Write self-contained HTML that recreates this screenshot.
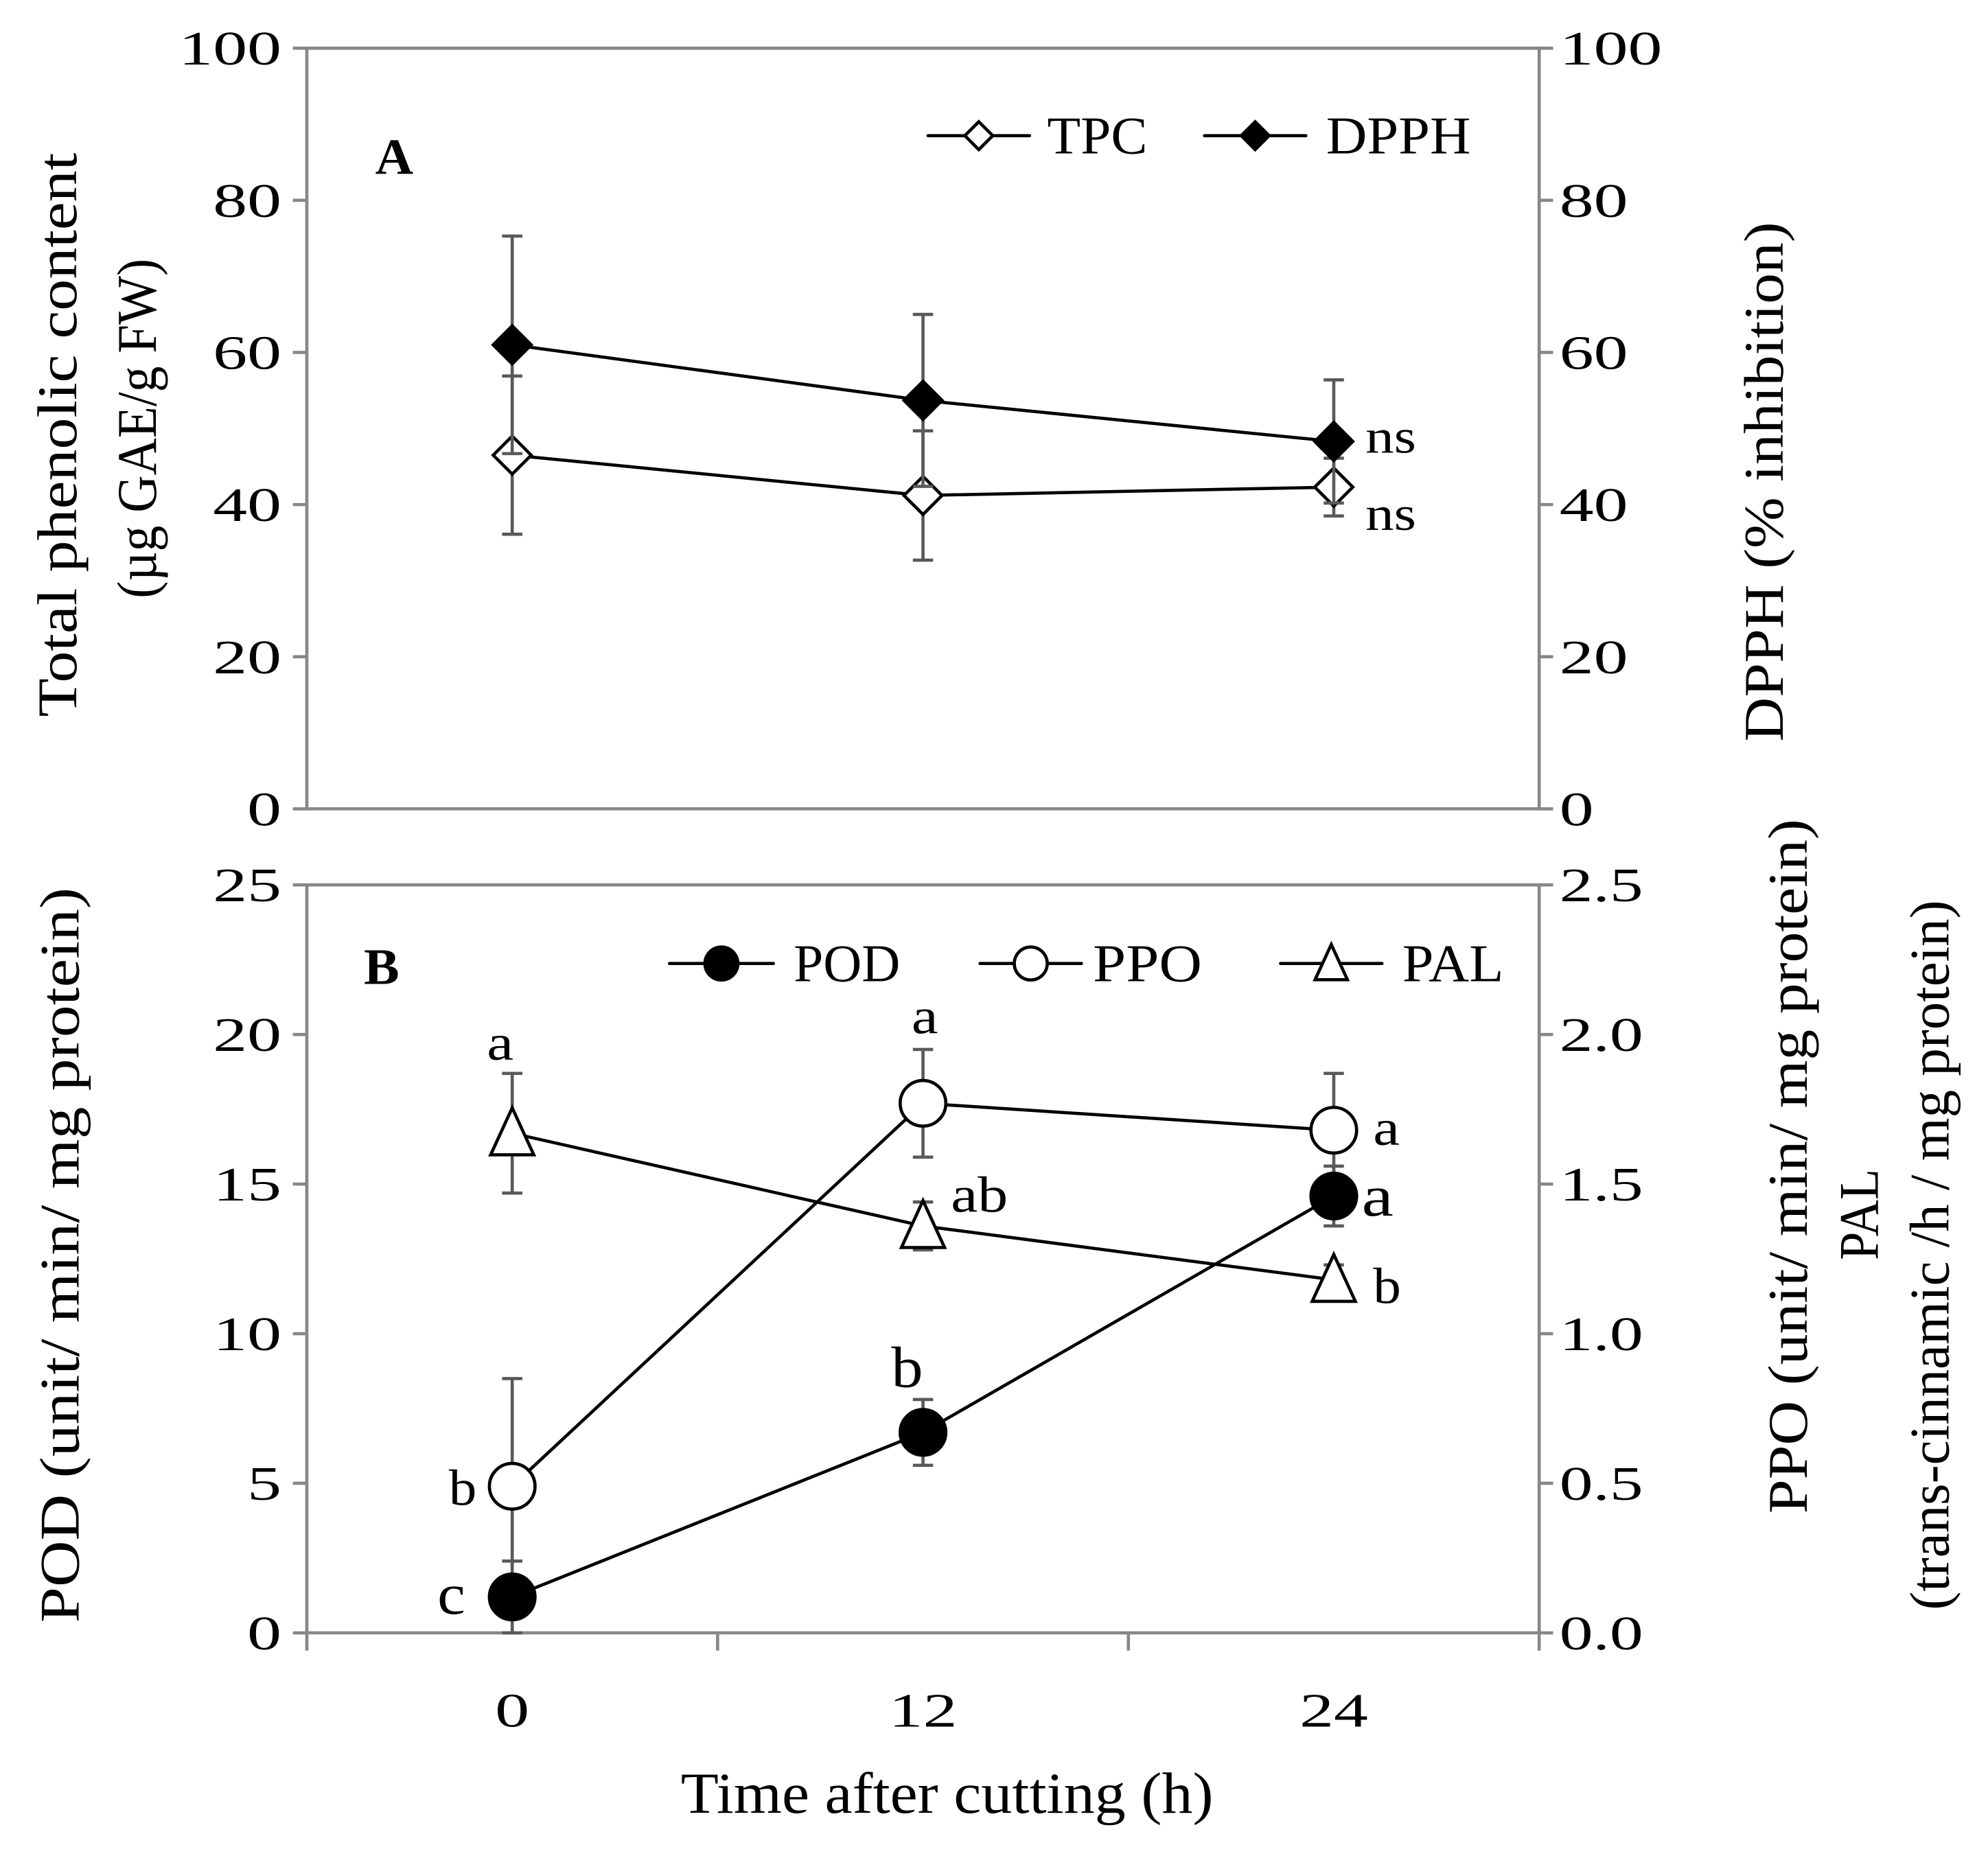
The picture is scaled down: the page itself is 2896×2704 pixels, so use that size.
<!DOCTYPE html>
<html><head><meta charset="utf-8"><style>
html,body{margin:0;padding:0;background:#fff}
svg{display:block}
text{font-family:"Liberation Serif",serif;fill:#000}
</style></head><body>
<svg id="chart" width="2896" height="2704" viewBox="0 0 1568 1464" xmlns="http://www.w3.org/2000/svg">
<g id="g"></g>
</svg>
<script>
const cats=["0","12","24"];
const tpc=[46.5,41.2,42.3], tpcErr=[10.4,8.5,3.8];
const dpph=[61.0,53.7,48.3], dpphErr=[14.3,11.3,8.1];
const pod=[1.2,6.7,14.6], podErr=[1.2,1.1,1.0];
const ppo=[0.49,1.77,1.68], ppoErr=[0.36,0.18,0.19];
const pal=[1.67,1.36,1.18], palErr=[0.20,0.08,0.05];
const aTicks=[0,20,40,60,80,100];
const bLTicks=[0,5,10,15,20,25];
const bRTicks=["0.0","0.5","1.0","1.5","2.0","2.5"];
const podLetters=["c","b","a"], ppoLetters=["b","a","a"], palLetters=["a","ab","b"];

const NS="http://www.w3.org/2000/svg";
const g=document.getElementById('g');
function el(t,a,txt){const e=document.createElementNS(NS,t);for(const k in a)e.setAttribute(k,a[k]);if(txt!==undefined)e.textContent=txt;g.appendChild(e);return e;}
const L=242,R=1214;
const xc=i=>L+(i+0.5)*(R-L)/3;
const yA=v=>638-v/100*600;
const yBL=v=>1288-v/25*590;
const yBR=v=>1288-v/2.5*590;
const AX="#878787";
function tl(s){let w=0;for(const c of String(s))w+=(c==='.')?12:27;return w;}

let e;
e=el('rect',{x:L,y:38,width:R-L,height:600,fill:'none',stroke:AX,'stroke-width':2.5});

e=el('rect',{x:L,y:698,width:R-L,height:590,fill:'none',stroke:AX,'stroke-width':2.5});


function tick(x,y,s,anchor,name){
  e=el('text',{x:x,y:y+13,'font-size':38,'text-anchor':anchor,textLength:tl(s),lengthAdjust:'spacingAndGlyphs'},s);
  
}
aTicks.forEach(v=>{
  const y=yA(v);
  el('line',{x1:L-11,x2:L,y1:y,y2:y,stroke:AX,'stroke-width':2.5});
  el('line',{x1:R,x2:R+11,y1:y,y2:y,stroke:AX,'stroke-width':2.5});
  tick(222,y,String(v),'end','a-left-tick-label');
  tick(1230,y,String(v),'start','a-right-tick-label');
});
bLTicks.forEach((v,i)=>{
  const y=yBL(v);
  el('line',{x1:L-11,x2:L,y1:y,y2:y,stroke:AX,'stroke-width':2.5});
  el('line',{x1:R,x2:R+11,y1:y,y2:y,stroke:AX,'stroke-width':2.5});
  tick(222,y,String(v),'end','b-left-tick-label');
  tick(1230,y,bRTicks[i],'start','b-right-tick-label');
});
for(let i=0;i<=3;i++){const x=L+i*(R-L)/3;el('line',{x1:x,x2:x,y1:1288,y2:1302,stroke:AX,'stroke-width':2.5});}
cats.forEach((c,i)=>{
  e=el('text',{x:xc(i),y:1362,'font-size':38,'text-anchor':'middle',textLength:tl(c),lengthAdjust:'spacingAndGlyphs'},c);
  });

function errbar(x,yv,ye,yf){const t=yf(yv+ye),b=yf(yv-ye);
  el('line',{x1:x,x2:x,y1:t,y2:b,stroke:'#595959','stroke-width':2.5});
  el('line',{x1:x-8,x2:x+8,y1:t,y2:t,stroke:'#595959','stroke-width':2.5});
  el('line',{x1:x-8,x2:x+8,y1:b,y2:b,stroke:'#595959','stroke-width':2.5});}
function series(vals,errs,yf,name,marker){
  vals.forEach((v,i)=>errbar(xc(i),v,errs[i],yf));
  const pts=vals.map((v,i)=>xc(i)+','+yf(v)).join(' ');
  const p=el('polyline',{points:pts,fill:'none',stroke:'#000','stroke-width':2.5});
  
  vals.forEach((v,i)=>{const m=marker(xc(i),yf(v));});
}
const diamond=(fill,s)=>(x,y)=>el('polygon',{points:`${x},${y-s} ${x+s},${y} ${x},${y+s} ${x-s},${y}`,fill:fill,stroke:'#000','stroke-width':2.5});
const circle=(fill,r)=>(x,y)=>el('circle',{cx:x,cy:y,r:r,fill:fill,stroke:'#000','stroke-width':2.5});
const tri=(s)=>(x,y)=>el('polygon',{points:`${x},${y-s} ${x+s*0.85},${y+s*0.85} ${x-s*0.85},${y+s*0.85}`,fill:'#fff',stroke:'#000','stroke-width':2.5});

series(tpc,tpcErr,yA,'tpc',diamond('#fff',15));
series(dpph,dpphErr,yA,'dpph',diamond('#000',15));
series(pal,palErr,yBR,'pal',tri(20));
series(ppo,ppoErr,yBR,'ppo',circle('#fff',18));
series(pod,podErr,yBL,'pod',circle('#000',18));

function lab(x,y,t,fs,col,name,w){const a={x:x,y:y,'font-size':fs,fill:col||'#000'};if(w){a.textLength=w;a.lengthAdjust='spacingAndGlyphs';}
  e=el('text',a,t);return e;}
lab(1077,357,'ns',38,null,'dpph-ns',40);
lab(1077,418,'ns',38,null,'tpc-ns',40);
lab(384,836,palLetters[0],40,null,'pal-letter',21);
lab(750,956,palLetters[1],40,null,'pal-letter',45);
lab(1083,1028,palLetters[2],40,null,'pal-letter',22);
lab(354,1187,ppoLetters[0],40,null,'ppo-letter',22);
lab(719,815,ppoLetters[1],40,null,'ppo-letter',21);
lab(1083,903,ppoLetters[2],40,null,'ppo-letter',21);
lab(345,1273,podLetters[0],46,'#333','pod-letter',22);
lab(703,1094,podLetters[1],46,'#333','pod-letter',25);
lab(1074,959,podLetters[2],46,'#333','pod-letter',25);

lab(296,137,'A',40,null,'panel-a-label',30).setAttribute('font-weight','bold');
lab(287,776,'B',40,null,'panel-b-label',28).setAttribute('font-weight','bold');

function leg(x1,x2,y,mk,txt,tx,w,name){
  el('line',{x1:x1,x2:x2,y1:y,y2:y,stroke:'#000','stroke-width':2.5,'stroke-linecap':'round'});
  mk((x1+x2)/2,y);
  lab(tx,y+14,txt,42,null,name,w);
}
leg(732,812,107,diamond('#fff',11),'TPC',826,79,'legend-tpc');
leg(950,1030,107,diamond('#000',11),'DPPH',1046,114,'legend-dpph');
leg(528,610,760,circle('#000',13),'POD',626,84,'legend-pod');
leg(773,853,760,circle('#fff',13),'PPO',862,86,'legend-ppo');
leg(1010,1090,760,tri(15),'PAL',1106,80,'legend-pal');

function vt(x,y,t,w,name){e=el('text',{x:x,y:y,'font-size':44,'text-anchor':'middle',textLength:w,lengthAdjust:'spacingAndGlyphs',transform:`rotate(-90 ${x} ${y})`},t);}
vt(60,343,'Total phenolic content',445,'a-left-title-1');
vt(123,338,'(µg GAE/g FW)',268,'a-left-title-2');
vt(1406,380,'DPPH (% inhibition)',410,'a-right-title');
vt(62,990,'POD (unit/ min/ mg protein)',580,'b-left-title');
vt(1425,920,'PPO (unit/ min/ mg protein)',548,'b-right-title-1');
vt(1481,958,'PAL',72,'b-right-title-2');
vt(1537,990,'(trans-cinnamic /h / mg protein)',560,'b-right-title-3');
e=el('text',{x:747,y:1430,'font-size':46,'text-anchor':'middle',textLength:420,lengthAdjust:'spacingAndGlyphs'},'Time after cutting (h)');

</script>
</body></html>
